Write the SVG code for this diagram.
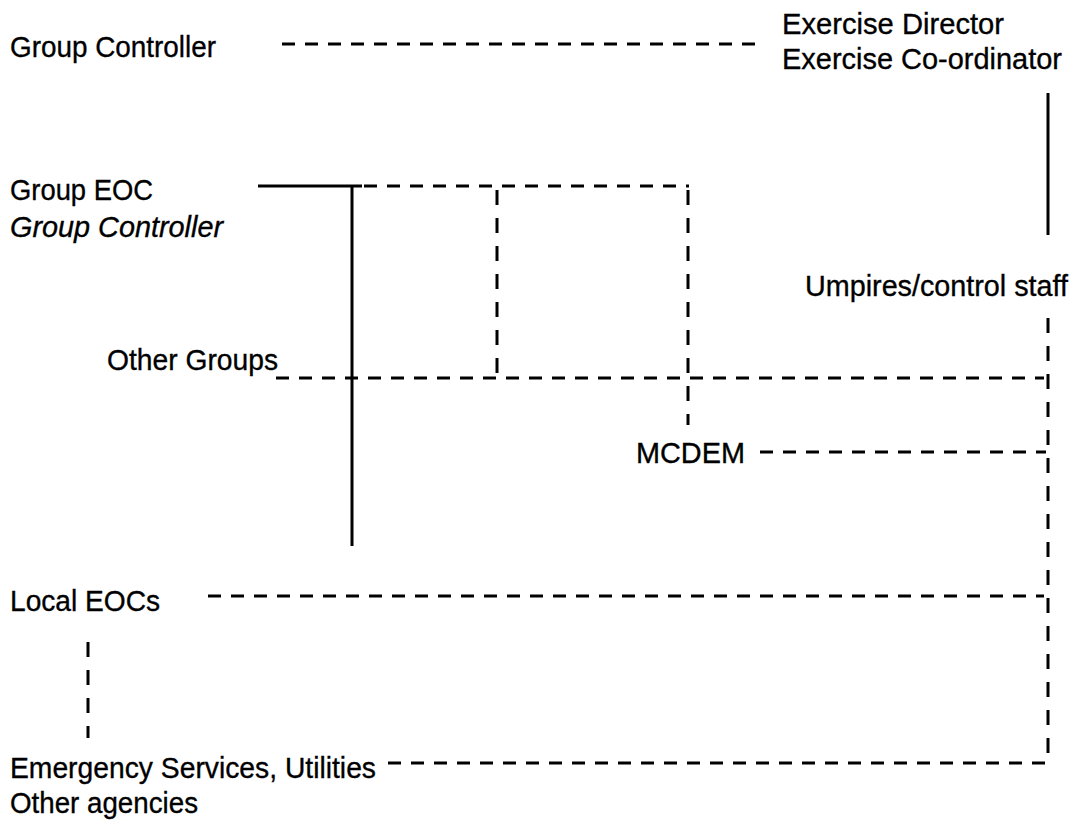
<svg xmlns="http://www.w3.org/2000/svg" width="1080" height="823" viewBox="0 0 1080 823">
<style>
text{font-family:"Liberation Sans",Arial,sans-serif;font-size:30px;fill:#000;stroke:#000;stroke-width:0.35}
.it{font-style:italic}
line{stroke:#000;stroke-width:3;fill:none}
.dh{stroke-dasharray:13 10}
.dv{stroke-dasharray:15 13}
</style>
<rect width="1080" height="823" fill="#fff"/>
<g id="group-controller"><text x="10" y="57" textLength="206" lengthAdjust="spacingAndGlyphs">Group Controller</text></g>
<g id="exercise-director"><text x="782" y="34" textLength="222" lengthAdjust="spacingAndGlyphs">Exercise Director</text><text x="782" y="69" textLength="280" lengthAdjust="spacingAndGlyphs">Exercise Co-ordinator</text></g>
<g id="group-eoc"><text x="10" y="200" textLength="143" lengthAdjust="spacingAndGlyphs">Group EOC</text><text class="it" x="10" y="237" textLength="213" lengthAdjust="spacingAndGlyphs">Group Controller</text></g>
<g id="umpires"><text x="805" y="296" textLength="263" lengthAdjust="spacingAndGlyphs">Umpires/control staff</text></g>
<g id="other-groups"><text x="107" y="370" textLength="171" lengthAdjust="spacingAndGlyphs">Other Groups</text></g>
<g id="mcdem"><text x="636" y="463" textLength="109" lengthAdjust="spacingAndGlyphs">MCDEM</text></g>
<g id="local-eocs"><text x="10" y="611" textLength="150" lengthAdjust="spacingAndGlyphs">Local EOCs</text></g>
<g id="emergency-services"><text x="10" y="778" textLength="366" lengthAdjust="spacingAndGlyphs">Emergency Services, Utilities</text><text x="10" y="813" textLength="188" lengthAdjust="spacingAndGlyphs">Other agencies</text></g>
<g id="connectors">
<line class="dh" x1="282" y1="44" x2="762" y2="44"/>
<line x1="1048" y1="93" x2="1048" y2="235"/>
<line x1="258" y1="186" x2="362" y2="186"/>
<line class="dh" x1="364" y1="186" x2="689" y2="186"/>
<line x1="352" y1="186" x2="352" y2="546"/>
<line class="dv" x1="497" y1="190" x2="497" y2="378"/>
<line class="dv" x1="688" y1="190" x2="688" y2="425"/>
<line class="dh" x1="276" y1="378" x2="1044" y2="378"/>
<line class="dv" x1="1048" y1="318" x2="1048" y2="765"/>
<line class="dh" x1="760" y1="452" x2="1046" y2="452"/>
<line class="dh" x1="208" y1="596" x2="1044" y2="596"/>
<line class="dv" x1="88" y1="642" x2="88" y2="738"/>
<line class="dh" x1="388" y1="763" x2="1048" y2="763"/>
</g>
</svg>
